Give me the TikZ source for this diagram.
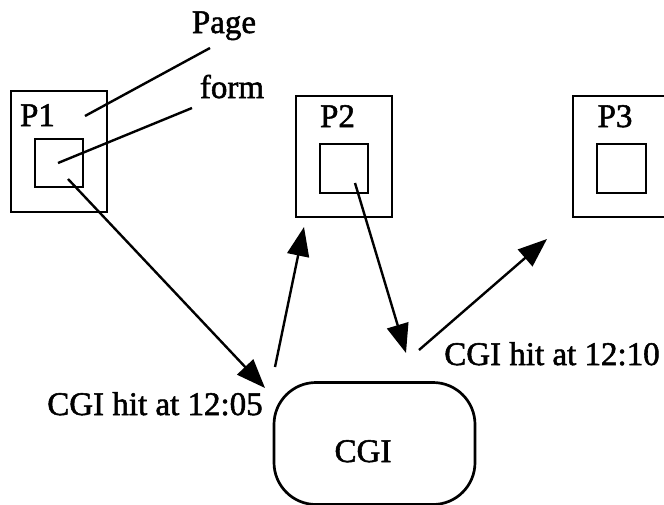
\documentclass[tikz,border=0pt]{standalone}
\usepackage{fontspec}
\setmainfont{Liberation Serif}[FakeBold=1.6]
\usetikzlibrary{arrows.meta}
\begin{document}
\begin{tikzpicture}[x=1pt,y=-1pt,
  lbl/.style={font=\fontsize{33}{40}\selectfont, inner sep=0pt, anchor=base},
  pagebox/.style={draw, line width=2.7pt, inner sep=0pt},
  formbox/.style={draw, line width=2.7pt, inner sep=0pt},
  pointer/.style={line width=2.4pt},
  flow/.style={line width=2.4pt, -{Triangle[length=29pt,width=22pt]}}]
\useasboundingbox (0,0) rectangle (664,504);
\clip (0,0) rectangle (664,504);
% pages
\node[pagebox, minimum width=96pt, minimum height=121pt] (p1) at (59,151.5) {};
\node[formbox, minimum width=48pt, minimum height=48pt] (f1) at (59,163) {};
\node[pagebox, minimum width=96pt, minimum height=121pt] (p2) at (344,156.5) {};
\node[formbox, minimum width=48pt, minimum height=49pt] (f2) at (344,168.5) {};
\node[pagebox, minimum width=110pt, minimum height=121pt] (p3) at (628,156.5) {};
\node[formbox, minimum width=49pt, minimum height=49pt] (f3) at (621.5,168.5) {};
% labels
\node[lbl] (t1) at (37.5,126) {P1};
\node[lbl] (t2) at (337.5,127) {P2};
\node[lbl] (t3) at (615,127) {P3};
\node[lbl] (page) at (224,33) {Page};
\node[lbl] (form) at (232,98) {form};
\node[lbl] (h2) at (552,365) {CGI hit at 12:10};
\node[lbl] (h1) at (155,415) {CGI hit at 12:05};
% CGI
\node[draw, line width=2.7pt, rounded corners=42pt, minimum width=201pt, minimum height=122pt, inner sep=0pt] (cgi) at (374.5,443.5) {};
\node[lbl] (cgit) at (363,462) {CGI};
% pointer lines
\coordinate (pg1) at (210,48);
\coordinate (pg2) at (85,116);
\coordinate (fm1) at (192,108);
\coordinate (fm2) at (58,163);
\draw[pointer] (pg1) -- (pg2);
\draw[pointer] (fm1) -- (fm2);
% flow arrows
\coordinate (a1s) at (68,179);
\coordinate (a1e) at (265,388);
\coordinate (a2s) at (275,367);
\coordinate (a2e) at (304,227);
\coordinate (a3s) at (355,183);
\coordinate (a3e) at (406,353);
\coordinate (a4s) at (419,350);
\coordinate (a4e) at (547,239);
\draw[flow] (a1s) -- (a1e);
\draw[flow] (a2s) -- (a2e);
\draw[flow] (a3s) -- (a3e);
\draw[flow] (a4s) -- (a4e);
\end{tikzpicture}
\end{document}
